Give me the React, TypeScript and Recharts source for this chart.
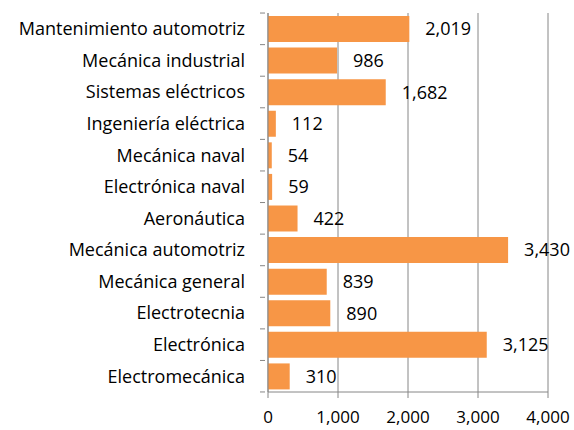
import React from "react";
import { BarChart, Bar, XAxis, YAxis, CartesianGrid, LabelList } from "recharts";

const categories = [
  "Mantenimiento automotriz",
  "Mecánica industrial",
  "Sistemas eléctricos",
  "Ingeniería eléctrica",
  "Mecánica naval",
  "Electrónica naval",
  "Aeronáutica",
  "Mecánica automotriz",
  "Mecánica general",
  "Electrotecnia",
  "Electrónica",
  "Electromecánica",
];
const values = [2019, 986, 1682, 112, 54, 59, 422, 3430, 839, 890, 3125, 310];
const xTicks = [0, 1000, 2000, 3000, 4000];

const data = categories.map((name, i) => ({ name, value: values[i] }));

const FONT = "'Open Sans', sans-serif";
const GRAY = "#868686";
const BAND = 378 / categories.length;

function CategoryTick(props: any) {
  const { x, y, payload, index } = props;
  const axisX = x + 5;
  return (
    <g>
      <line x1={axisX - 5} x2={axisX} y1={y - BAND / 2} y2={y - BAND / 2} stroke={GRAY} />
      {index === categories.length - 1 && (
        <line x1={axisX - 5} x2={axisX} y1={y + BAND / 2} y2={y + BAND / 2} stroke={GRAY} />
      )}
      <text x={axisX - 20} y={y} dy="0.355em" textAnchor="end" fill="#000" fontSize={18} fontFamily={FONT}>
        {payload.value}
      </text>
    </g>
  );
}

export default function App() {
  return (
    <div style={{ position: "absolute", left: 0, top: 0, background: "#fff" }}>
      <BarChart
        width={574}
        height={430}
        data={data}
        layout="vertical"
        margin={{ top: 13, right: 26, left: 0, bottom: 0 }}
        barSize={26}
      >
        <CartesianGrid horizontal={false} stroke={GRAY} />
        <XAxis
          type="number"
          domain={[0, 4000]}
          ticks={xTicks}
          tickFormatter={(v: number) => v.toLocaleString("en-US")}
          height={38}
          tickSize={6}
          tickMargin={13}
          stroke={GRAY}
          tick={{ fill: "#000", fontSize: 17, fontFamily: FONT }}
        />
        <YAxis
          type="category"
          dataKey="name"
          width={268}
          stroke={GRAY}
          tickLine={false}
          tick={<CategoryTick />}
          interval={0}
        />
        <Bar dataKey="value" fill="#F79646" isAnimationActive={false}>
          <LabelList
            dataKey="value"
            position="right"
            offset={16}
            formatter={(v: any) => Number(v).toLocaleString("en-US")}
            style={{ fill: "#000", fontSize: 18, fontFamily: FONT }}
          />
        </Bar>
      </BarChart>
    </div>
  );
}
